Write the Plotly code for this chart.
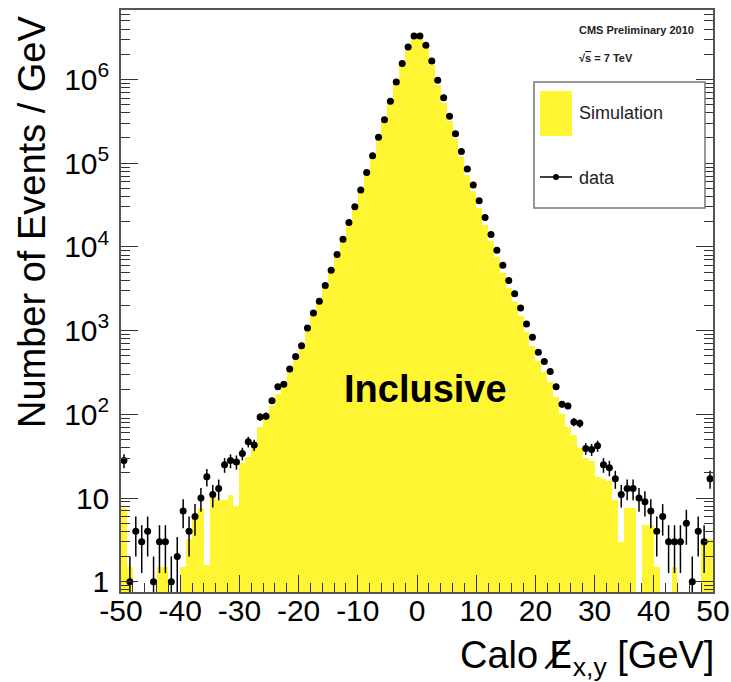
import numpy as np
import plotly.graph_objects as go

# ---- data (bin centres in GeV, 1 GeV bins) ----
bin_centers = [c + 0.5 for c in range(-50, 50)]

data_counts = [
    28, 1, 4, 3, 4, 1, 3, 3, 1, 2,
    7, 4, 6, 10, 18, 11, 13, 25, 28, 27,
    34, 47, 43, 93, 95, 145, 214, 229, 347, 490,
    661, 1072, 1622, 2239, 3467, 5248, 8128, 12300, 19500, 30200,
    47900, 77600, 123000, 204000, 331000, 550000, 933000, 1550000, 2450000, 3310000,
    3310000, 2570000, 1660000, 977000, 603000, 363000, 224000, 138000, 85100, 55000,
    35500, 22400, 14100, 9120, 6030, 3980, 2750, 1860, 1200, 832,
    550, 427, 324, 214, 132, 126, 81, 78, 39, 38,
    42, 25, 23, 17, 11, 13, 13, 10, 9, 7,
    4, 6, 3, 3, 3, 5, 1, 4, 3, 17,
]

sim_counts = [
    7.5, 1.5, 0, 0, 0, 0, 1.5, 1.5, 0, 0,
    1.5, 3.2, 6, 7.5, 1.6, 11, 9.5, 9.5, 11, 8,
    26, 31, 40, 70, 89, 126, 175, 230, 330, 470,
    650, 1000, 1550, 2200, 3350, 5100, 7900, 12000, 19000, 29500,
    47000, 76000, 121000, 200000, 325000, 540000, 915000, 1520000, 2420000, 3300000,
    3250000, 2350000, 1500000, 870000, 530000, 315000, 192000, 117000, 72000, 46000,
    29500, 18500, 11600, 7500, 4900, 3250, 2200, 1480, 960, 650,
    430, 320, 240, 160, 100, 71, 56, 40, 30, 28,
    18, 17, 16, 9.5, 3, 7.5, 7.5, 0, 4.8, 4.8,
    1.5, 0, 0, 1.5, 0, 0, 0, 0, 3.2, 3.2,
]

x_ticks = [-50, -40, -30, -20, -10, 0, 10, 20, 30, 40, 50]
y_ticks = [1, 10, 100, 1000, 10000, 100000, 1000000]
y_ticktext = ["1", "10", "10<sup>2</sup>", "10<sup>3</sup>", "10<sup>4</sup>",
              "10<sup>5</sup>", "10<sup>6</sup>"]

FONT = "Liberation Sans, Arial, Helvetica, sans-serif"
YELLOW = "#fff533"

d = np.array(data_counts, dtype=float)
err_up = np.sqrt(d)
err_dn = np.minimum(np.sqrt(d), d - 0.01)

fig = go.Figure()

fig.add_trace(go.Bar(
    x=bin_centers, y=sim_counts, width=1.0,
    marker=dict(color=YELLOW, line=dict(width=0)),
    name="Simulation", showlegend=False,
))

fig.add_trace(go.Scatter(
    x=bin_centers, y=data_counts, mode="markers",
    marker=dict(color="black", size=7),
    error_y=dict(type="data", array=err_up, arrayminus=err_dn,
                 color="black", thickness=1.5, width=0),
    error_x=dict(type="constant", value=0.5, color="black",
                 thickness=1.5, width=0),
    name="data", showlegend=False,
))

minor_y = [m * 10 ** e for e in range(-1, 7) for m in range(2, 10)]

fig.update_layout(
    width=731, height=682,
    margin=dict(l=121, r=18, t=10, b=90, autoexpand=False),
    paper_bgcolor="white", plot_bgcolor="white",
    bargap=0, barmode="overlay",
    font=dict(family=FONT, color="black"),
    xaxis=dict(
        range=[-50, 50], tickmode="array", tickvals=x_ticks,
        ticktext=[str(v) for v in x_ticks],
        ticks="inside", ticklen=17, tickwidth=1, tickcolor="#333",
        minor=dict(ticks="inside", dtick=2, ticklen=9, tickwidth=1,
                   tickcolor="#333", showgrid=False),
        showline=True, linecolor="#555", linewidth=1.5, mirror=True,
        showgrid=False, zeroline=False, automargin=False,
        tickfont=dict(size=30, family=FONT), ticklabelstandoff=-9,
    ),
    yaxis=dict(
        type="log", range=[-0.123, 6.83],
        tickmode="array", tickvals=y_ticks, ticktext=y_ticktext,
        ticks="inside", ticklen=17, tickwidth=1, tickcolor="#333",
        minor=dict(ticks="inside", tickvals=minor_y, ticklen=9, tickwidth=1,
                   tickcolor="#333", showgrid=False),
        showline=True, linecolor="#555", linewidth=1.5, mirror="ticks",
        showgrid=False, zeroline=False, automargin=False,
        tickfont=dict(size=30, family=FONT), ticklabelstandoff=4,
    ),
)

def px_x(px):
    return (px - 121) / 592.0

def px_y(py):
    return (592 - py) / 582.0

annotations = [
    dict(text="Number of Events / GeV", textangle=-90, xref="paper", yref="paper",
         x=px_x(32), y=px_y(14), xanchor="center", yanchor="top",
         showarrow=False, font=dict(size=38, family=FONT, color="black")),
    dict(text="Calo <span style='font-family:DejaVu Sans'>E\u0338</span><sub>x,y</sub> [GeV]",
         xref="paper", yref="paper",
         x=px_x(716), y=px_y(657), xanchor="right", yanchor="middle",
         showarrow=False, font=dict(size=38, family=FONT, color="black")),
    dict(text="<b>Inclusive</b>", xref="paper", yref="paper",
         x=px_x(425), y=px_y(389), xanchor="center", yanchor="middle",
         showarrow=False, font=dict(size=38, family=FONT, color="black")),
    dict(text="<b>CMS Preliminary 2010</b>", xref="paper", yref="paper",
         x=px_x(577), y=px_y(30), xanchor="left", yanchor="middle",
         showarrow=False, font=dict(size=11, family=FONT, color="#222")),
    dict(text="<b>\u221a<span style='text-decoration:overline'>s</span> = 7 TeV</b>",
         xref="paper", yref="paper",
         x=px_x(577), y=px_y(58), xanchor="left", yanchor="middle",
         showarrow=False, font=dict(size=11, family=FONT, color="#222")),
    dict(text="Simulation", xref="paper", yref="paper",
         x=px_x(577), y=px_y(113), xanchor="left", yanchor="middle",
         showarrow=False, font=dict(size=18, family=FONT, color="#222")),
    dict(text="data", xref="paper", yref="paper",
         x=px_x(577), y=px_y(178), xanchor="left", yanchor="middle",
         showarrow=False, font=dict(size=18, family=FONT, color="#222")),
]

shapes = [
    dict(type="rect", xref="paper", yref="paper",
         x0=px_x(534), x1=px_x(705), y0=px_y(208), y1=px_y(82),
         line=dict(color="#777", width=1.5), fillcolor="white", layer="above"),
    dict(type="rect", xref="paper", yref="paper",
         x0=px_x(540), x1=px_x(572), y0=px_y(136), y1=px_y(91),
         line=dict(width=0), fillcolor=YELLOW, layer="above"),
    dict(type="line", xref="paper", yref="paper",
         x0=px_x(540), x1=px_x(572), y0=px_y(177), y1=px_y(177),
         line=dict(color="black", width=1.5), layer="above"),
    dict(type="circle", xref="paper", yref="paper",
         xsizemode="pixel", ysizemode="pixel",
         xanchor=px_x(556), yanchor=px_y(177),
         x0=-3, x1=3, y0=-3, y1=3,
         line=dict(color="black", width=0), fillcolor="black", layer="above"),
]

fig.update_layout(annotations=annotations, shapes=shapes)

fig.write_html("out.html")
